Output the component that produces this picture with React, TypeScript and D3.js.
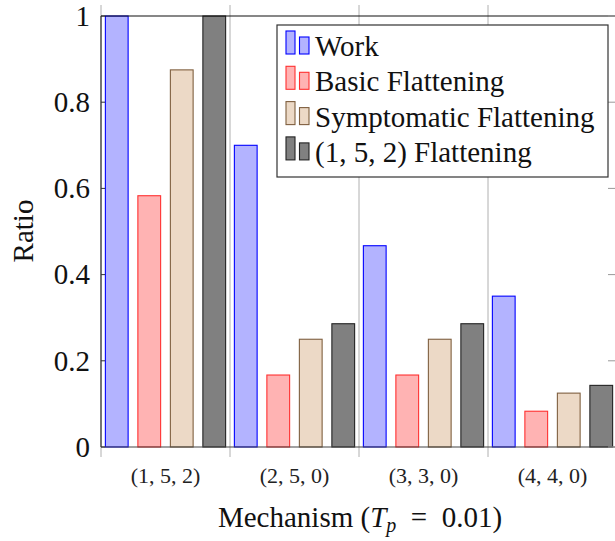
import * as d3 from "d3";

const categories = ["(1, 5, 2)", "(2, 5, 0)", "(3, 3, 0)", "(4, 4, 0)"];
const seriesNames = ["Work", "Basic Flattening", "Symptomatic Flattening", "(1, 5, 2) Flattening"];
const work = [1, 0.7, 0.467, 0.35];
const basic = [0.583, 0.167, 0.167, 0.083];
const symptomatic = [0.875, 0.25, 0.25, 0.125];
const flat152 = [1, 0.286, 0.286, 0.143];
const yTicks = [0, 0.2, 0.4, 0.6, 0.8, 1];
const yTickLabels = ["0", "0.2", "0.4", "0.6", "0.8", "1"];

const fills = ["#b3b3ff", "#ffb3b3", "#ecd9c6", "#808080"];
const strokes = ["#0000ff", "#ff3030", "#7f5f3f", "#222222"];

const W = 615;
const H = 541;
const left = 101;
const right = 617;
const top = 16;
const bottom = 447;
const font = "Liberation Serif";

export default function App() {
  const series = [work, basic, symptomatic, flat152];
  const x = d3.scaleBand().domain(categories).range([left, right]).padding(0);
  const inner = d3
    .scaleBand()
    .domain(seriesNames)
    .range([-65, 65])
    .paddingInner(0.3)
    .paddingOuter(0.15);
  const y = d3.scaleLinear().domain([0, 1]).range([bottom, top]);
  const groupCenter = (c: string) => (x(c) ?? 0) + x.bandwidth() / 2;
  const gridX = categories.map((c) => x(c) ?? 0).concat([right]);

  return (
    <svg
      width={W}
      height={H}
      style={{ position: "absolute", left: 0, top: 0, background: "#fff", fontFamily: font }}
    >
      {/* vertical grid / x ticks */}
      {gridX.map((gx, i) => (
        <line key={i} x1={gx} x2={gx} y1={5} y2={457} stroke="#b0b0b0" strokeWidth={1} />
      ))}

      {/* bars */}
      {series.map((vals, si) =>
        vals.map((v, ci) => {
          const cx = groupCenter(categories[ci]) + (inner(seriesNames[si]) ?? 0);
          return (
            <rect
              key={`${si}-${ci}`}
              x={cx}
              y={y(v)}
              width={inner.bandwidth()}
              height={y(0) - y(v)}
              fill={fills[si]}
              stroke={strokes[si]}
              strokeWidth={1.1}
            />
          );
        })
      )}

      {/* axis lines */}
      <line x1={left} x2={left} y1={top} y2={bottom} stroke="#333" strokeWidth={1.2} />
      <line x1={left} x2={right + 2} y1={top} y2={top} stroke="#111" strokeWidth={1.2} />
      <line x1={left} x2={right + 2} y1={bottom} y2={bottom} stroke="#444" strokeWidth={1.2} />
      <line x1={right + 1} x2={right + 1} y1={top} y2={bottom} stroke="#333" strokeWidth={1.2} />

      {/* y ticks */}
      {yTicks.map((t, i) => (
        <g key={i}>
          <line x1={left} x2={left + 4} y1={y(t)} y2={y(t)} stroke="#333" />
          <line x1={right - 9} x2={right} y1={y(t)} y2={y(t)} stroke="#999" />
          <text
            x={90}
            y={y(t)}
            dy="0.34em"
            textAnchor="end"
            fontSize={29}
            fill="#111"
            style={{ fontFamily: font }}
          >
            {yTickLabels[i]}
          </text>
        </g>
      ))}

      {/* x tick labels */}
      {categories.map((c) => (
        <text
          key={c}
          x={groupCenter(c)}
          y={483}
          textAnchor="middle"
          fontSize={22}
          fill="#222"
          style={{ fontFamily: font }}
        >
          {c}
        </text>
      ))}

      {/* axis titles */}
      <text
        transform={`translate(33, 231) rotate(-90)`}
        textAnchor="middle"
        fontSize={29}
        fill="#111"
        style={{ fontFamily: font }}
      >
        Ratio
      </text>
      <text x={360} y={527} textAnchor="middle" fontSize={29} fill="#111" style={{ fontFamily: font }}>
        Mechanism (<tspan fontStyle="italic">T</tspan>
        <tspan fontStyle="italic" fontSize={20} dy={5}>p</tspan>
        <tspan dy={-5}>{"\u2002=\u20020.01)"}</tspan>
      </text>

      {/* legend */}
      <rect x={277} y={25} width={331} height={152} fill="#fff" stroke="#333" strokeWidth={1.2} />
      {seriesNames.map((n, i) => {
        const ry = 31 + i * 35.3;
        return (
          <g key={n}>
            <rect x={286} y={ry} width={9} height={23} fill={fills[i]} stroke={strokes[i]} strokeWidth={1.1} />
            <rect x={299.5} y={ry + 6} width={9.5} height={17} fill={fills[i]} stroke={strokes[i]} strokeWidth={1.1} />
            <text x={315} y={ry + 25} fontSize={29} fill="#111" style={{ fontFamily: font }}>
              {n}
            </text>
          </g>
        );
      })}
    </svg>
  );
}
